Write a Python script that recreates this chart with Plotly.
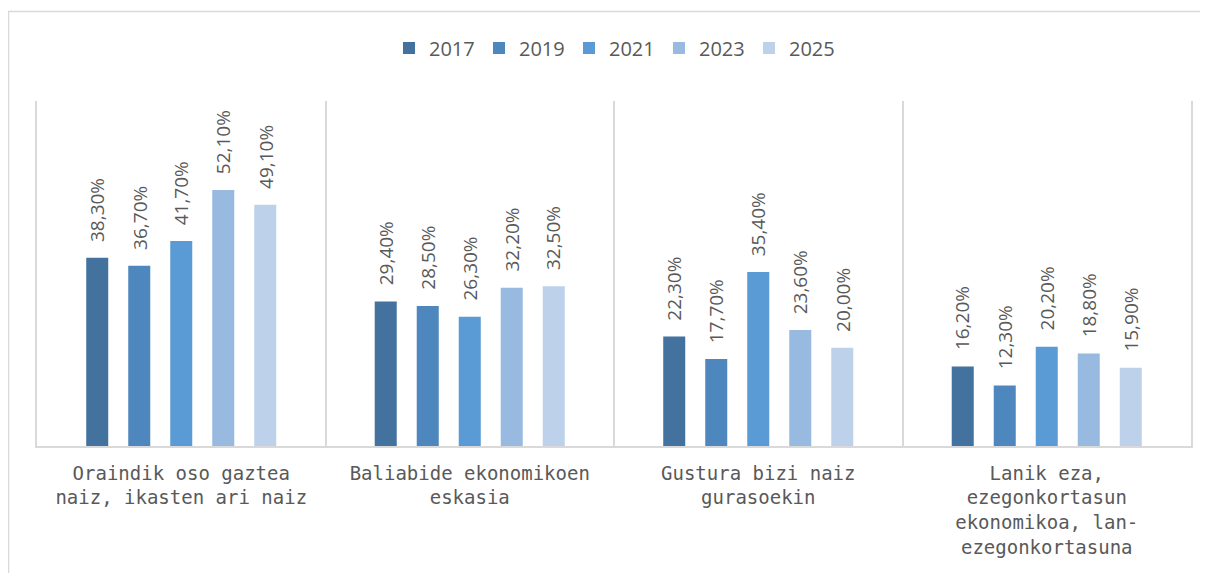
import plotly.graph_objects as go

categories = [
    "Oraindik oso gaztea<br>naiz, ikasten ari naiz",
    "Baliabide ekonomikoen<br>eskasia",
    "Gustura bizi naiz<br>gurasoekin",
    "Lanik eza,<br>ezegonkortasun<br>ekonomikoa, lan-<br>ezegonkortasuna",
]
years = ["2017", "2019", "2021", "2023", "2025"]
values = {
    "2017": [38.3, 29.4, 22.3, 16.2],
    "2019": [36.7, 28.5, 17.7, 12.3],
    "2021": [41.7, 26.3, 35.4, 20.2],
    "2023": [52.1, 32.2, 23.6, 18.8],
    "2025": [49.1, 32.5, 20.0, 15.9],
}
colors = ["#43729E", "#4D87BD", "#5B9BD5", "#98B9E0", "#BDD1EA"]

FONT = "Open Sans"
TICKFONT = "DejaVu Sans Mono"
GRAY = "#595959"
LINE = "#D9D9D9"
BARGAP = 0.272
GROUPGAP = 0.476

# page has an 8px body margin; figure sized to fit the 1208x573 window
W, H = 1200, 565
ML, MR, MT, MB = 29, 17, 93, 127
PW, PH = W - ML - MR, H - MT - MB

x_pos = list(range(len(categories)))
fig = go.Figure()
n = len(years)
slot = (1 - BARGAP) / n
annotations = []
for j, (yr, col) in enumerate(zip(years, colors)):
    fig.add_trace(go.Bar(
        x=x_pos, y=values[yr], name=yr,
        marker=dict(color=col, line=dict(width=0)),
        hoverinfo="skip",
    ))
    for i, v in enumerate(values[yr]):
        annotations.append(dict(
            x=i + (j - (n - 1) / 2) * slot, y=v, xref="x", yref="y",
            text=f"{v:.2f}".replace(".", ",") + "%",
            textangle=-90, showarrow=False, xanchor="center", yanchor="bottom",
            yshift=14, font=dict(family=FONT, size=19, color=GRAY),
        ))

fig.update_layout(
    width=W, height=H,
    margin=dict(l=ML, r=MR, t=MT, b=MB),
    paper_bgcolor="white", plot_bgcolor="white",
    barmode="group", bargap=BARGAP, bargroupgap=GROUPGAP,
    font=dict(family=FONT, color=GRAY),
    legend=dict(
        orientation="h", x=0.5, xanchor="center", y=1 + 53 / PH, yanchor="middle",
        font=dict(family=FONT, size=20, color=GRAY),
        traceorder="normal", entrywidth=45, entrywidthmode="pixels",
    ),
    xaxis=dict(
        range=[-0.5, len(categories) - 0.5],
        tickmode="array", tickvals=x_pos, ticktext=categories,
        tickfont=dict(family=TICKFONT, size=19, color=GRAY),
        showgrid=False, zeroline=False,
        showline=True, linecolor=LINE, linewidth=1.5,
        ticks="", ticklabelstandoff=9,
        minor=dict(tickmode="array", tickvals=[0.5, 1.5, 2.5],
                   showgrid=True, gridcolor=LINE, gridwidth=1.5, ticks=""),
    ),
    yaxis=dict(
        range=[0, 70.2], showticklabels=False, showgrid=False, zeroline=False,
        showline=True, mirror=True, linecolor=LINE, linewidth=1.5, ticks="",
    ),
    annotations=annotations,
    shapes=[dict(
        type="rect", xref="paper", yref="paper",
        x0=(0.5 - ML) / PW, x1=(W + 20 - ML) / PW,
        y0=-1.0, y1=1 + (MT - 3.5) / PH,
        line=dict(color=LINE, width=1.5), fillcolor="rgba(0,0,0,0)", layer="below",
    )],
)

fig.write_html("out.html")
